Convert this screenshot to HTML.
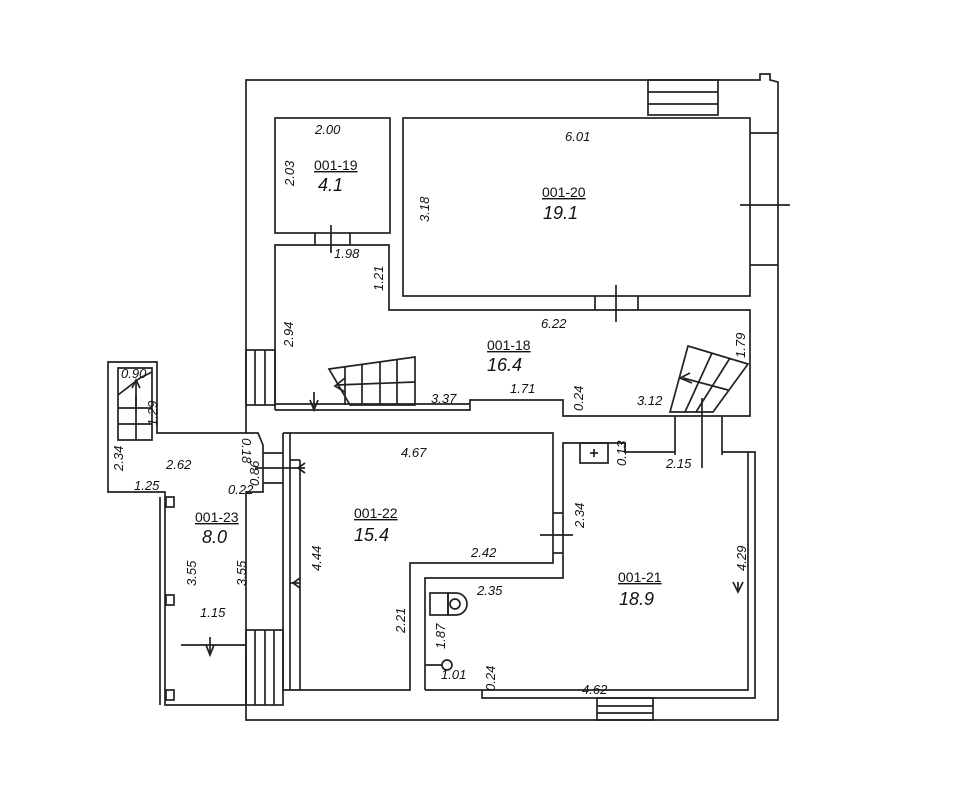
<!DOCTYPE html>
<html><head><meta charset="utf-8"><style>
html,body{margin:0;padding:0;background:#fff}
svg{display:block}
text{font-family:"Liberation Sans",sans-serif;font-style:italic;fill:#111}
.d{font-size:13px}
.id{font-size:14px;font-style:normal;text-decoration:underline}
.a{font-size:18px}
</style></head><body>
<svg width="960" height="795" viewBox="0 0 960 795" xmlns="http://www.w3.org/2000/svg">
<g fill="none" stroke="#222" stroke-width="1.7">
<polyline points="246,430 246,80 760,80 760,74 770,74 770,80 778,82 778,720 246,720 246,650"/>
<rect x="648" y="80" width="70" height="35"/><line x1="648" y1="92" x2="718" y2="92"/><line x1="648" y1="104" x2="718" y2="104"/>
<rect x="275" y="118" width="115" height="115"/>
<line x1="315" y1="233" x2="315" y2="245"/><line x1="350" y1="233" x2="350" y2="245"/><line x1="331" y1="225" x2="331" y2="253"/>
<rect x="403" y="118" width="347" height="178"/>
<line x1="750" y1="133" x2="778" y2="133"/><line x1="750" y1="265" x2="778" y2="265"/><line x1="740" y1="205" x2="790" y2="205"/>
<line x1="595" y1="296" x2="595" y2="310"/><line x1="638" y1="296" x2="638" y2="310"/><line x1="616" y1="285" x2="616" y2="322"/>
<polyline points="275,410 275,245 389,245 389,310 750,310 750,416 563,416 563,400 470,400 470,410 275,410"/>
<line x1="275" y1="404" x2="470" y2="404"/>
<rect x="246" y="350" width="29" height="55"/><line x1="255" y1="350" x2="255" y2="405"/><line x1="265" y1="350" x2="265" y2="405"/>
<line x1="314" y1="392" x2="314" y2="410"/><polyline points="310,400 314,410 318,400"/>
<polygon points="329,369 415,357 415,405 350,405"/>
<line x1="345" y1="366" x2="345" y2="405"/><line x1="362" y1="364" x2="362" y2="405"/><line x1="380" y1="362" x2="380" y2="405"/><line x1="397" y1="359" x2="397" y2="405"/>
<line x1="337" y1="385" x2="415" y2="382"/><polyline points="345,378 335,386 345,392"/>
<polygon points="688,346 748,364 713,412 670,412"/>
<line x1="712" y1="353" x2="685" y2="412"/><line x1="730" y1="358" x2="696" y2="412"/>
<line x1="683" y1="378" x2="728" y2="390"/><polyline points="690,373 680,378 692,383"/>
<line x1="675" y1="416" x2="675" y2="455"/><line x1="722" y1="416" x2="722" y2="455"/><line x1="702" y1="398" x2="702" y2="468"/>
<polyline points="246,430 246,433 157,433 157,362 108,362 108,492 165,492 165,705 246,705"/>
<line x1="160" y1="497" x2="160" y2="705"/>
<rect x="166" y="497" width="8" height="10"/><rect x="166" y="595" width="8" height="10"/><rect x="166" y="690" width="8" height="10"/>
<polyline points="246,433 258,433 263,445 263,492 246,492 246,705"/>
<line x1="181" y1="645" x2="246" y2="645"/><line x1="210" y1="637" x2="210" y2="655"/><polyline points="206,645 210,655 214,645"/>
<rect x="246" y="630" width="37" height="75"/><line x1="255" y1="630" x2="255" y2="705"/><line x1="265" y1="630" x2="265" y2="705"/><line x1="274" y1="630" x2="274" y2="705"/>
<polygon points="118,368 152,368 152,440 118,440"/>
<line x1="118" y1="408" x2="152" y2="408"/><line x1="118" y1="424" x2="152" y2="424"/><line x1="136" y1="395" x2="136" y2="440"/>
<polyline points="118,395 140,378 152,372"/><line x1="136" y1="380" x2="136" y2="410"/><polyline points="132,388 136,380 140,388"/>
<polyline points="283,433 553,433 553,563 410,563 410,690 283,690 283,433"/>
<line x1="290" y1="433" x2="290" y2="690"/><line x1="300" y1="460" x2="300" y2="690"/><line x1="290" y1="460" x2="300" y2="460"/>
<line x1="263" y1="453" x2="283" y2="453"/><line x1="263" y1="483" x2="283" y2="483"/>
<line x1="255" y1="468" x2="305" y2="468"/><polyline points="305,463 298,468 305,473"/>
<line x1="290" y1="583" x2="300" y2="583"/><polyline points="300,578 293,583 300,588"/>
<line x1="553" y1="513" x2="563" y2="513"/><line x1="553" y1="553" x2="563" y2="553"/><line x1="540" y1="535" x2="573" y2="535"/>
<polyline points="563,563 563,443 625,443 625,452 675,452"/>
<polyline points="722,452 748,452 748,690 482,690"/>
<polyline points="748,452 755,452 755,698 482,698 482,690"/>
<polyline points="425,690 425,578 563,578 563,563"/>
<line x1="425" y1="690" x2="482" y2="690"/>
<rect x="580" y="443" width="28" height="20"/><line x1="594" y1="449" x2="594" y2="457"/><line x1="590" y1="453" x2="598" y2="453"/>
<line x1="738" y1="582" x2="738" y2="592"/><polyline points="733,582 738,592 743,582"/>
<rect x="430" y="593" width="18" height="22"/><path d="M448,593 h8 a11,11 0 0 1 0,22 h-8 z"/><circle cx="455" cy="604" r="5"/>
<circle cx="447" cy="665" r="5"/><line x1="425" y1="665" x2="442" y2="665"/>
<rect x="597" y="698" width="56" height="22"/><line x1="597" y1="706" x2="653" y2="706"/><line x1="597" y1="713" x2="653" y2="713"/>
</g>
<text class="d" x="315" y="134">2.00</text>
<text class="d" x="294" y="186" transform="rotate(-90 294 186)">2.03</text>
<text class="id" x="314" y="170">001-19</text>
<text class="a" x="318" y="191">4.1</text>
<text class="d" x="565" y="141">6.01</text>
<text class="d" x="429" y="222" transform="rotate(-90 429 222)">3.18</text>
<text class="id" x="542" y="197">001-20</text>
<text class="a" x="543" y="219">19.1</text>
<text class="d" x="334" y="258">1.98</text>
<text class="d" x="383" y="291" transform="rotate(-90 383 291)">1.21</text>
<text class="d" x="293" y="347" transform="rotate(-90 293 347)">2.94</text>
<text class="d" x="541" y="328">6.22</text>
<text class="d" x="745" y="358" transform="rotate(-90 745 358)">1.79</text>
<text class="id" x="487" y="350">001-18</text>
<text class="a" x="487" y="371">16.4</text>
<text class="d" x="510" y="393">1.71</text>
<text class="d" x="431" y="403">3.37</text>
<text class="d" x="583" y="411" transform="rotate(-90 583 411)">0.24</text>
<text class="d" x="637" y="405">3.12</text>
<text class="d" x="121" y="378">0.90</text>
<text class="d" x="157" y="426" transform="rotate(-90 157 426)">1.29</text>
<text class="d" x="123" y="471" transform="rotate(-90 123 471)">2.34</text>
<text class="d" x="166" y="469">2.62</text>
<text class="d" x="134" y="490">1.25</text>
<text class="d" x="242" y="438" transform="rotate(90 242 438)">0.18</text>
<text class="d" x="259" y="486" transform="rotate(-90 259 486)">0.86</text>
<text class="d" x="228" y="494" font-size="12">0.22</text>
<text class="id" x="195" y="522">001-23</text>
<text class="a" x="202" y="543">8.0</text>
<text class="d" x="196" y="586" transform="rotate(-90 196 586)">3.55</text>
<text class="d" x="246" y="586" transform="rotate(-90 246 586)">3.55</text>
<text class="d" x="200" y="617">1.15</text>
<text class="d" x="401" y="457">4.67</text>
<text class="id" x="354" y="518">001-22</text>
<text class="a" x="354" y="541">15.4</text>
<text class="d" x="321" y="571" transform="rotate(-90 321 571)">4.44</text>
<text class="d" x="471" y="557">2.42</text>
<text class="d" x="405" y="633" transform="rotate(-90 405 633)">2.21</text>
<text class="d" x="584" y="528" transform="rotate(-90 584 528)">2.34</text>
<text class="d" x="626" y="466" transform="rotate(-90 626 466)" font-size="12">0.13</text>
<text class="d" x="666" y="468">2.15</text>
<text class="d" x="477" y="595">2.35</text>
<text class="d" x="746" y="571" transform="rotate(-90 746 571)">4.29</text>
<text class="id" x="618" y="582">001-21</text>
<text class="a" x="619" y="605">18.9</text>
<text class="d" x="445" y="649" transform="rotate(-90 445 649)">1.87</text>
<text class="d" x="441" y="679">1.01</text>
<text class="d" x="495" y="691" transform="rotate(-90 495 691)" font-size="12">0.24</text>
<text class="d" x="582" y="694">4.62</text>
</svg>
</body></html>
